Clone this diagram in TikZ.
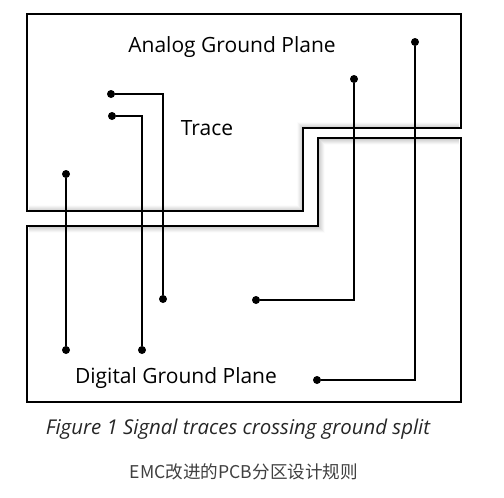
\documentclass[tikz,border=0pt]{standalone}
\usepackage{fontspec}
\setmainfont{Open Sans}
\newfontfamily\cjkfont{Noto Sans CJK SC}
\begin{document}
\begin{tikzpicture}[x=1pt,y=-1pt,
	plane/.style={line width=2.6pt, line join=miter},
	trace/.style={line width=2pt},
	pad/.style={circle, fill, inner sep=0pt, minimum size=8pt},
	label/.style={text=black, font=\fontsize{21}{24}\selectfont}]
	\useasboundingbox (0,0) rectangle (504,498);
	
	% soft shadow inside the split
	\foreach \d in {1, 2, ..., 6}{
		\draw[black, opacity={0.22-0.035*\d}, line width=1pt] (29,211-\d) -- (303-\d,211-\d) -- (303-\d,128-\d) -- (459,128-\d);
		\draw[black, opacity={0.22-0.035*\d}, line width=1pt] (29,226+\d) -- (318+\d,226+\d) -- (318+\d,138+\d) -- (459,138+\d);
	}
	
	% analog ground plane
	\draw[plane] (27,14) -- (461,14) -- (461,128) -- (303,128) -- (303,211) -- (27,211) -- cycle;
	% digital ground plane
	\draw[plane] (27,226) -- (318,226) -- (318,138) -- (461,138) -- (461,402) -- (27,402) -- cycle;
	
	% traces crossing the split
	\node[pad] (a1) at (66,174) {};
	\node[pad] (d1) at (66,350) {};
	\node[pad] (a2) at (111,94) {};
	\node[pad] (d2) at (163,299) {};
	\node[pad] (a3) at (112,116) {};
	\node[pad] (d3) at (142,350) {};
	\node[pad] (a4) at (354,79) {};
	\node[pad] (d4) at (256,300) {};
	\node[pad] (a5) at (415,42) {};
	\node[pad] (d5) at (317,380) {};
	
	\draw[trace] (a1) -- (d1);
	\foreach \i in {2, 3}{
		\draw[trace] (a\i) -| (d\i);
	}
	\foreach \i in {4, 5}{
		\draw[trace] (a\i) |- (d\i);
	}
	
	\node[label] (analog) at (232,47) {Analog Ground Plane};
	\node[label] (trace) at (207,128) {Trace};
	\node[label] (digital) at (176,378) {Digital Ground Plane};
	
	\node[text=black!85, font=\fontsize{20.4}{24}\selectfont\itshape] (caption) at (238,429) {Figure 1 Signal traces crossing ground split};
	\node[text=black!75, font=\fontsize{17.6}{20}\selectfont\cjkfont] (title) at (244,472) {EMC改进的PCB分区设计规则};
\end{tikzpicture}
\end{document}
